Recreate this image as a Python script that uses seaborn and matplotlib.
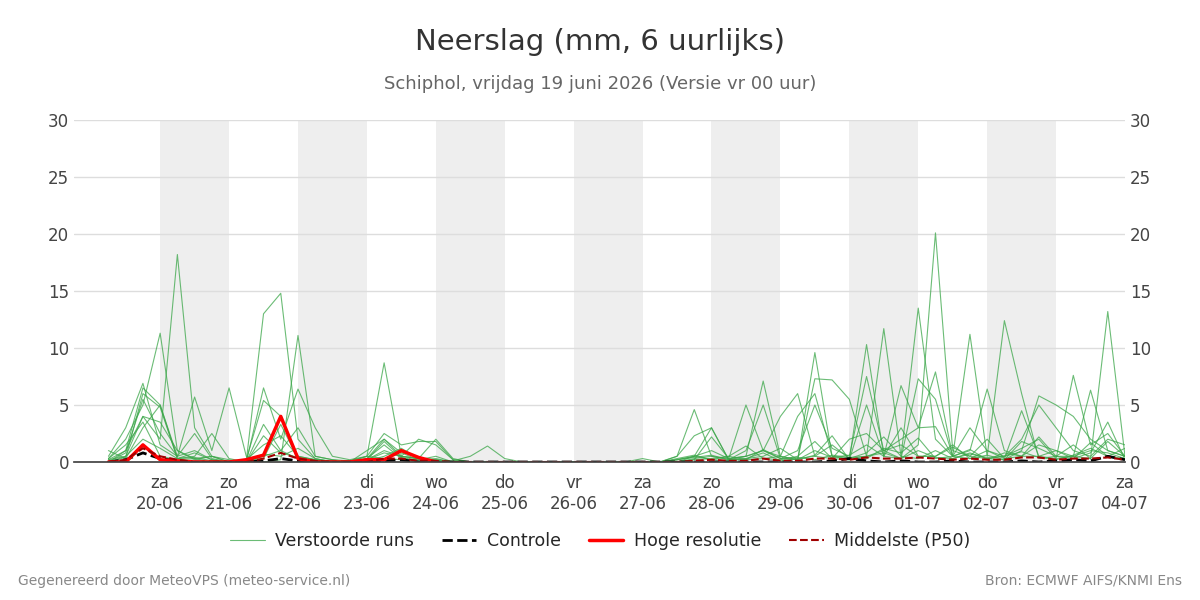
import matplotlib
matplotlib.use('Agg')
import matplotlib.pyplot as plt
import matplotlib.dates as mdates
import numpy as np
import pandas as pd
import seaborn as sns

sns.set_theme(style='white')
plt.rcParams['font.family'] = ['DejaVu Sans']

# 6-hourly steps from 19-06 06:00 up to 04-07 00:00
times = pd.date_range('2026-06-19 06:00', periods=60, freq='6h')

runs = [
    [0.3, 2, 5, 11.3, 1, 0.3, 0, 0, 0.2, 5.4, 4, 0.5,
     0.2, 0, 0, 0.2, 1, 0.5, 0.3, 0, 0.1, 0.5, 1.4, 0.3,
     0, 0, 0, 0, 0, 0, 0, 0, 0, 0.5, 2.3, 3,
     0.2, 0.5, 1, 0.3, 0.2, 7.3, 7.2, 5.5, 0.5, 1, 2, 3,
     3.1, 0.5, 0.3, 1, 0.5, 2, 5, 3, 1, 0.5, 2, 1.5],
    [0, 1, 4, 2, 18.2, 3, 0.5, 0, 0.1, 13, 14.8, 2,
     0.3, 0, 0, 0.5, 0.3, 0.2, 0, 0, 0, 0, 0, 0,
     0, 0, 0, 0, 0, 0, 0, 0, 0, 0.2, 0.5, 1,
     0.3, 5, 1, 4, 6, 0.5, 0.3, 0.2, 10.3, 0.5, 0.3, 1.5,
     20.1, 1, 0.5, 0.3, 0.2, 1, 5.8, 5, 4, 2, 1, 0.5],
    [0.5, 3, 6.9, 1.5, 0.5, 5.7, 1, 6.5, 0.5, 0, 0.2, 11.1,
     0.5, 0.2, 0.1, 0.5, 8.7, 0.5, 2, 1.5, 0.2, 0, 0, 0,
     0, 0, 0, 0, 0, 0, 0, 0, 0, 0.5, 4.6, 0.5,
     0.3, 0.5, 7.1, 0.5, 0.2, 9.6, 0.5, 0.3, 0.5, 11.7, 0.5, 13.5,
     2, 0.5, 11.2, 0.5, 12.4, 6, 0.3, 0.5, 0.5, 0.3, 13.2, 0.5],
    [0.2, 1, 6.5, 5, 0.3, 0.5, 2.5, 0.3, 0, 6.5, 2, 6.4,
     3, 0.5, 0.2, 0.5, 2.5, 1.5, 1.8, 1.8, 0.2, 0, 0, 0,
     0, 0, 0, 0, 0, 0, 0, 0.3, 0, 0.2, 0.5, 3,
     0.2, 1, 5, 0.3, 1, 5, 1.2, 0.5, 7.5, 1, 0.3, 7.3,
     5.5, 0.5, 3, 1, 0.3, 0.5, 1.5, 1, 0.5, 6.3, 1, 0.5],
    [0, 0.5, 4, 3.5, 1, 0.2, 0.5, 0.2, 0, 3.3, 1, 3,
     0.5, 0.2, 0, 1, 2, 0.5, 0.3, 2, 0.3, 0, 0, 0,
     0, 0, 0, 0, 0, 0, 0, 0, 0, 0, 0.2, 2.2,
     0.3, 0.5, 1, 0.5, 4, 6, 0.5, 0.2, 5, 0.5, 6.7, 3,
     7.9, 0.5, 1, 6.4, 1, 0.5, 0.5, 0.3, 7.6, 1.5, 2.5, 0.5],
    [1, 0.3, 3, 5, 0.5, 2.5, 0.3, 0, 0.2, 1.5, 2.3, 0.5,
     0.2, 0.1, 0, 0.3, 1.5, 0.3, 0.2, 0.5, 0, 0, 0, 0,
     0, 0, 0, 0, 0, 0, 0, 0, 0, 0.3, 0.6, 0.2,
     0.5, 1.4, 0.3, 0.2, 0.5, 1.8, 0.3, 2, 2.5, 1, 1.5, 0.5,
     0.5, 1.3, 0.5, 2, 0.3, 4.5, 0.5, 1, 0.3, 1.7, 0.5, 1.2],
    [0.2, 0.5, 2, 1.2, 0.3, 0.8, 0.2, 0, 0, 0.5, 1, 0.3,
     0.1, 0, 0.1, 0.2, 0.8, 0.5, 0.3, 0.2, 0, 0, 0, 0,
     0, 0, 0, 0, 0, 0, 0, 0, 0, 0, 0.3, 0.5,
     0.2, 0.3, 0.8, 0.1, 0.3, 0.5, 1.5, 0.3, 0.8, 2.2, 0.5, 0.3,
     1, 0.3, 0.8, 0.3, 0.5, 1.2, 2, 0.3, 0.5, 1, 0.8, 0.3],
    [0, 0.8, 5.5, 2.5, 0.5, 1, 0.2, 0, 0, 0.7, 0.5, 1.2,
     0.3, 0, 0, 0.3, 2, 0.8, 0.2, 0.3, 0, 0, 0, 0,
     0, 0, 0, 0, 0, 0, 0, 0, 0, 0, 0.5, 0.2,
     0.1, 0.3, 0.5, 1.2, 0.2, 1, 0.4, 0.6, 1.5, 0.5, 3, 0.5,
     0.5, 1.5, 0.3, 0.6, 0.2, 1.8, 1.2, 0.5, 1.5, 0.3, 1.8, 0.5],
    [0.3, 1.5, 3.5, 0.5, 0.2, 0.3, 0.5, 0, 0, 0.3, 3.3, 0.3,
     0, 0, 0, 0.1, 0.5, 1.2, 0.3, 0.1, 0, 0, 0, 0,
     0, 0, 0, 0, 0, 0, 0, 0, 0, 0.2, 0.4, 0.6,
     0.2, 0.2, 0.3, 0.5, 0.2, 0.6, 2.3, 0.2, 0.3, 1.2, 0.8, 2.1,
     0.3, 0.5, 1.1, 0.2, 0.8, 0.5, 2.2, 0.5, 0.3, 0.8, 3.5, 0.2],
    [0, 0.4, 6, 4.8, 0.3, 0.4, 0.1, 0, 0, 2.3, 0.8, 0.4,
     0.2, 0, 0, 0.2, 1.8, 0.4, 0.1, 0.2, 0, 0, 0, 0,
     0, 0, 0, 0, 0, 0, 0, 0, 0, 0, 0.2, 0.3,
     0.5, 0.2, 1.1, 0.3, 0.4, 0.2, 0.6, 0.4, 0.5, 0.8, 0.3, 1,
     0.4, 0.3, 0.7, 0.4, 0.5, 0.9, 0.4, 0.2, 0.6, 1.2, 0.5, 0.3],
]

control = [0, 0.2, 0.8, 0.3, 0.1, 0, 0, 0, 0, 0.1, 0.3, 0.1,
           0, 0, 0, 0, 0.1, 0.2, 0, 0, 0, 0, 0, 0,
           0, 0, 0, 0, 0, 0, 0, 0, 0, 0, 0, 0,
           0, 0, 0, 0, 0, 0, 0.1, 0.3, 0.1, 0, 0.1, 0,
           0, 0.1, 0, 0, 0, 0.1, 0, 0.1, 0.2, 0.1, 0.5, 0.2]
p50 = [0, 0.2, 1.2, 0.5, 0.2, 0, 0, 0, 0, 0.3, 0.8, 0.3,
       0.1, 0, 0, 0, 0.3, 0.3, 0.1, 0.1, 0, 0, 0, 0,
       0, 0, 0, 0, 0, 0, 0, 0, 0, 0, 0.1, 0.2,
       0.1, 0.1, 0.3, 0.1, 0.1, 0.3, 0.3, 0.2, 0.4, 0.3, 0.3, 0.4,
       0.3, 0.2, 0.3, 0.2, 0.2, 0.4, 0.4, 0.2, 0.3, 0.3, 0.4, 0.2]
hres = [0, 0, 1.5, 0.2, 0.1, 0, 0, 0, 0.2, 0.6, 4, 0.3,
        0, 0, 0, 0.2, 0.2, 1.0, 0.4, 0]

day_names = ['za', 'zo', 'ma', 'di', 'wo', 'do', 'vr']
tick_days = pd.date_range('2026-06-20', '2026-07-04', freq='D')

fig = plt.figure(figsize=(12, 6), dpi=100)
ax = fig.add_axes([74 / 1200, 0.23, (1125 - 74) / 1200, 0.57])

# shaded every other day
for d in tick_days[::2][:-1]:
    ax.axvspan(d, d + pd.Timedelta(days=1), color='#eeeeee', zorder=0, lw=0)

for i, r in enumerate(runs):
    sns.lineplot(x=times, y=r, ax=ax, color='#3aa648', alpha=0.75, lw=0.8,
                 label='Verstoorde runs' if i == 0 else None, legend=False)
sns.lineplot(x=times, y=control, ax=ax, color='black', lw=2, linestyle='--', label='Controle', legend=False)
sns.lineplot(x=times[:len(hres)], y=hres, ax=ax, color='red', lw=2.5, label='Hoge resolutie', legend=False)
sns.lineplot(x=times, y=p50, ax=ax, color='#a00000', lw=1.5, linestyle='--', label='Middelste (P50)', legend=False)

ax.set_xlim(pd.Timestamp('2026-06-18 18:00'), pd.Timestamp('2026-07-04 00:00'))
ax.set_ylim(0, 30)
ax.set_yticks(range(0, 31, 5))
ax.set_xticks(tick_days)
ax.set_xticklabels([f"{day_names[i % 7]}\n{d.strftime('%d-%m')}" for i, d in enumerate(tick_days)])
ax.grid(axis='y', color='#dddddd', lw=1)
ax.tick_params(axis='both', labelsize=12, colors='#444444', length=0)
ax.tick_params(axis='x', length=5, color='#444444')
ax.tick_params(axis='y', right=True, labelright=True)
for s in ['top', 'left', 'right']:
    ax.spines[s].set_visible(False)
ax.spines['bottom'].set_color('#444444')
ax.set_xlabel('')
ax.set_ylabel('')

h, l = ax.get_legend_handles_labels()
fig.legend(h, l, loc='center', bbox_to_anchor=(0.5, 0.098), ncol=4, frameon=False, fontsize=12.5,
           handlelength=2, columnspacing=1.6, handletextpad=0.6)

fig.text(0.5, 0.93, 'Neerslag (mm, 6 uurlijks)', ha='center', va='center', fontsize=21, color='#333333')
fig.text(0.5, 0.86, 'Schiphol, vrijdag 19 juni 2026 (Versie vr 00 uur)', ha='center', va='center',
         fontsize=13, color='#666666')
fig.text(0.015, 0.025, 'Gegenereerd door MeteoVPS (meteo-service.nl)', fontsize=10, color='#888888')
fig.text(0.985, 0.025, 'Bron: ECMWF AIFS/KNMI Ens', fontsize=10, color='#888888', ha='right')

fig.savefig('out.png', dpi=100)
